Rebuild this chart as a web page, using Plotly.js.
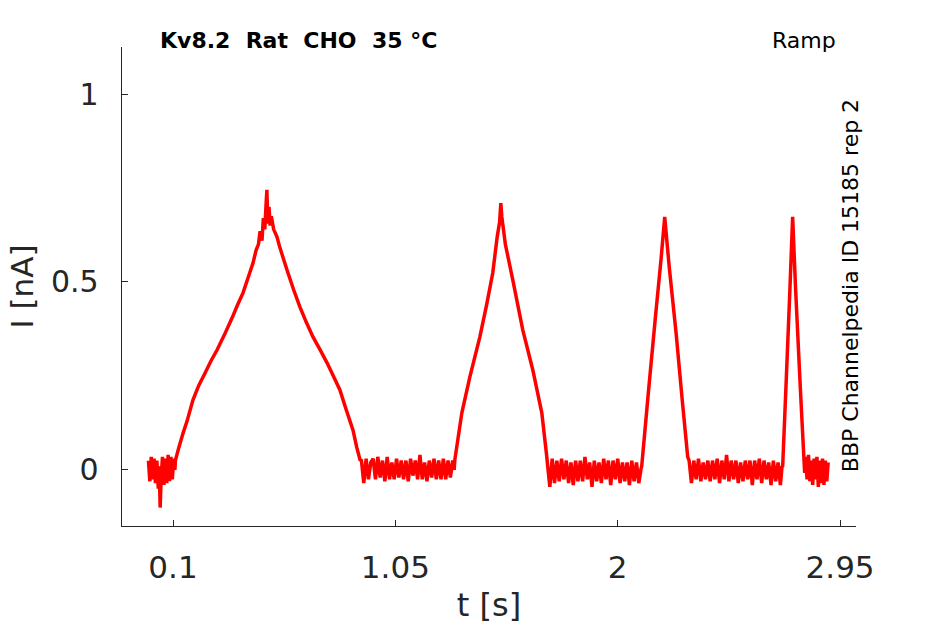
<!DOCTYPE html>
<html>
<head>
<meta charset="utf-8">
<script src="https://cdn.plot.ly/plotly-3.0.1.min.js"></script>
<style>
  html, body { margin: 0; padding: 0; background: #fff; }
  #myDiv { width: 945px; height: 624px; }
</style>
</head>
<body>
<div id="myDiv"></div>
<script>
// trace, segment by segment (t in s, I in nA)

// holding baseline before the first ramp
var t_base0 = [-0.005, 0.001, 0.007, 0.013, 0.019, 0.025, 0.031, 0.037, 0.041, 0.045, 0.049, 0.055, 0.061, 0.067, 0.073, 0.079, 0.085, 0.091, 0.097, 0.103, 0.108];
var i_base0 = [0.025, -0.03, 0.035, -0.025, 0.03, -0.035, 0.025, -0.05, 0.01, -0.10, -0.025, 0.035, -0.04, 0.03, -0.035, 0.04, -0.03, 0.035, -0.025, 0.03, 0.0];

// slow ramp
var t_ramp1 = [0.11, 0.125, 0.143, 0.16, 0.185, 0.21, 0.237, 0.262, 0.288, 0.32, 0.352, 0.375, 0.399, 0.42, 0.442, 0.455, 0.465, 0.472, 0.48, 0.486, 0.492, 0.497, 0.501, 0.505, 0.51, 0.515, 0.52, 0.53, 0.544, 0.555, 0.565, 0.587, 0.615, 0.642, 0.67, 0.698, 0.728, 0.758, 0.785, 0.813, 0.84, 0.869, 0.885, 0.899];
var i_ramp1 = [0.025, 0.06, 0.098, 0.13, 0.186, 0.225, 0.258, 0.29, 0.319, 0.36, 0.404, 0.438, 0.471, 0.51, 0.551, 0.585, 0.60, 0.635, 0.61, 0.67, 0.64, 0.70, 0.745, 0.655, 0.70, 0.65, 0.675, 0.64, 0.620, 0.595, 0.575, 0.532, 0.48, 0.434, 0.392, 0.354, 0.32, 0.285, 0.25, 0.213, 0.16, 0.106, 0.06, 0.027];

var t_base1 = [0.905, 0.915, 0.925, 0.935, 0.945, 0.955, 0.965, 0.975, 0.985, 0.995, 1.005, 1.015, 1.025, 1.035, 1.045, 1.055, 1.065, 1.075, 1.085, 1.095, 1.105, 1.115, 1.125, 1.135, 1.145, 1.155, 1.165, 1.175, 1.185, 1.195, 1.205, 1.215, 1.225, 1.235, 1.245, 1.255, 1.265, 1.275, 1.285, 1.295, 1.301];
var i_base1 = [0.025, -0.035, 0.03, -0.025, 0.02, 0.03, -0.025, 0.035, -0.02, 0.025, -0.03, 0.035, -0.025, 0.02, -0.025, 0.03, -0.02, 0.025, -0.025, 0.025, -0.03, 0.03, -0.015, 0.025, -0.025, 0.04, -0.025, 0.02, -0.03, 0.025, -0.02, 0.03, -0.025, 0.025, -0.025, 0.03, -0.025, 0.025, -0.02, 0.025, 0.0];

var t_ramp2 = [1.304, 1.334, 1.368, 1.411, 1.44, 1.466, 1.485, 1.4955, 1.5005, 1.5048, 1.52, 1.5518, 1.5945, 1.6372, 1.6756, 1.6969];
var i_ramp2 = [0.027, 0.152, 0.247, 0.354, 0.44, 0.524, 0.62, 0.66, 0.71, 0.673, 0.60, 0.505, 0.372, 0.266, 0.152, 0.035];

var t_base2 = [1.70, 1.71, 1.72, 1.73, 1.74, 1.75, 1.76, 1.77, 1.78, 1.79, 1.80, 1.81, 1.82, 1.83, 1.84, 1.85, 1.86, 1.87, 1.88, 1.89, 1.90, 1.91, 1.92, 1.93, 1.94, 1.95, 1.96, 1.97, 1.98, 1.99, 2.00, 2.01, 2.02, 2.03, 2.04, 2.05, 2.06, 2.07, 2.08, 2.09, 2.10];
var i_base2 = [0.015, -0.045, 0.03, -0.035, 0.025, -0.03, 0.03, -0.025, 0.025, -0.035, 0.02, -0.04, 0.025, -0.03, 0.025, -0.03, 0.035, -0.025, 0.02, -0.045, 0.025, -0.03, 0.02, -0.035, 0.03, -0.025, 0.025, -0.04, 0.025, -0.025, 0.03, -0.035, 0.02, -0.03, 0.02, -0.04, 0.025, -0.03, 0.02, -0.035, 0.005];

var t_ramp3 = [2.1025, 2.13, 2.16, 2.185, 2.2007, 2.22, 2.25, 2.275, 2.299];
var i_ramp3 = [0.01, 0.20, 0.40, 0.56, 0.673, 0.54, 0.36, 0.19, 0.035];

var t_base3 = [2.305, 2.315, 2.325, 2.335, 2.345, 2.355, 2.365, 2.375, 2.385, 2.395, 2.405, 2.415, 2.425, 2.435, 2.445, 2.455, 2.465, 2.475, 2.485, 2.495, 2.505, 2.515, 2.525, 2.535, 2.545, 2.555, 2.565, 2.575, 2.585, 2.595, 2.605, 2.615, 2.625, 2.635, 2.645, 2.655, 2.665, 2.675, 2.685, 2.695, 2.702];
var i_base3 = [0.025, -0.035, 0.025, -0.025, 0.03, -0.03, 0.02, -0.025, 0.025, -0.03, 0.025, -0.025, 0.03, -0.035, 0.025, -0.025, 0.04, -0.03, 0.025, -0.025, 0.025, -0.035, 0.02, -0.03, 0.025, -0.025, 0.025, -0.04, 0.025, -0.025, 0.03, -0.035, 0.025, -0.025, 0.02, -0.04, 0.025, -0.03, 0.02, -0.04, 0.01];

var t_ramp4 = [2.7046, 2.72, 2.735, 2.7473, 2.76, 2.78, 2.7986];
var i_ramp4 = [0.008, 0.24, 0.47, 0.673, 0.48, 0.22, -0.008];

var t_base4 = [2.803, 2.809, 2.815, 2.821, 2.827, 2.833, 2.839, 2.845, 2.851, 2.857, 2.863, 2.869, 2.875, 2.881, 2.887, 2.893, 2.899];
var i_base4 = [0.035, -0.025, 0.04, -0.03, 0.025, -0.04, 0.03, -0.025, 0.035, -0.045, 0.025, -0.035, 0.03, -0.04, 0.025, -0.03, 0.02];

var xTicks = [0.1, 1.05, 2, 2.95];
var xTickText = ['0.1', '1.05', '2', '2.95'];
var yTicks = [0, 0.5, 1];
var yTickText = ['0', '0.5', '1'];

var plotTitle = 'Kv8.2  Rat  CHO  35 °C';
var protocolName = 'Ramp';
var sourceLabel = 'BBP Channelpedia ID 15185 rep 2';

var t_all = [].concat(t_base0, t_ramp1, t_base1, t_ramp2, t_base2, t_ramp3, t_base3, t_ramp4, t_base4);
var i_all = [].concat(i_base0, i_ramp1, i_base1, i_ramp2, i_base2, i_ramp3, i_base3, i_ramp4, i_base4);

var axisColor = '#262626';
var fontName = 'DejaVu Sans';

var trace_data = [{
  x: t_all, y: i_all, type: 'scatter', mode: 'lines',
  line: {color: '#ff0000', width: 3.5, simplify: false},
  hoverinfo: 'skip'
}];

var layout = {
  width: 945,
  height: 624,
  margin: {l: 122, r: 89, t: 47, b: 98},
  paper_bgcolor: '#ffffff',
  plot_bgcolor: '#ffffff',
  showlegend: false,
  font: {family: fontName, color: axisColor},
  xaxis: {
    range: [-0.118, 3.018],
    tickvals: xTicks, ticktext: xTickText,
    ticks: 'inside', ticklen: 6, tickcolor: axisColor, tickwidth: 1,
    showline: true, linecolor: axisColor, linewidth: 1.3,
    showgrid: false, zeroline: false,
    tickfont: {family: fontName, size: 31, color: axisColor},
    ticklabelstandoff: 13,
    title: {text: 't [s]', font: {family: fontName, size: 32, color: axisColor}, standoff: 12}
  },
  yaxis: {
    range: [-0.149, 1.125],
    tickvals: yTicks, ticktext: yTickText,
    ticks: 'inside', ticklen: 6, tickcolor: axisColor, tickwidth: 1,
    showline: true, linecolor: axisColor, linewidth: 1.3,
    showgrid: false, zeroline: false,
    tickfont: {family: fontName, size: 30, color: axisColor},
    ticklabelstandoff: 16,
    title: {text: 'I [nA]', font: {family: fontName, size: 31, color: axisColor}, standoff: 8}
  },
  annotations: [
    {text: '<b>' + plotTitle + '</b>', xref: 'paper', yref: 'paper', x: 0.049, y: 1.0146,
     xanchor: 'left', yanchor: 'middle', showarrow: false,
     font: {family: fontName, size: 22, color: '#000000'}},
    {text: protocolName, xref: 'paper', yref: 'paper', x: 0.9755, y: 1.0146,
     xanchor: 'right', yanchor: 'middle', showarrow: false,
     font: {family: fontName, size: 22, color: '#000000'}},
    {text: sourceLabel, xref: 'paper', yref: 'paper', x: 0.992, y: 0.501,
     xanchor: 'center', yanchor: 'middle', textangle: -90, showarrow: false,
     font: {family: fontName, size: 22, color: '#000000'}}
  ]
};

Plotly.newPlot('myDiv', trace_data, layout, {displayModeBar: false, staticPlot: true});
</script>
</body>
</html>
